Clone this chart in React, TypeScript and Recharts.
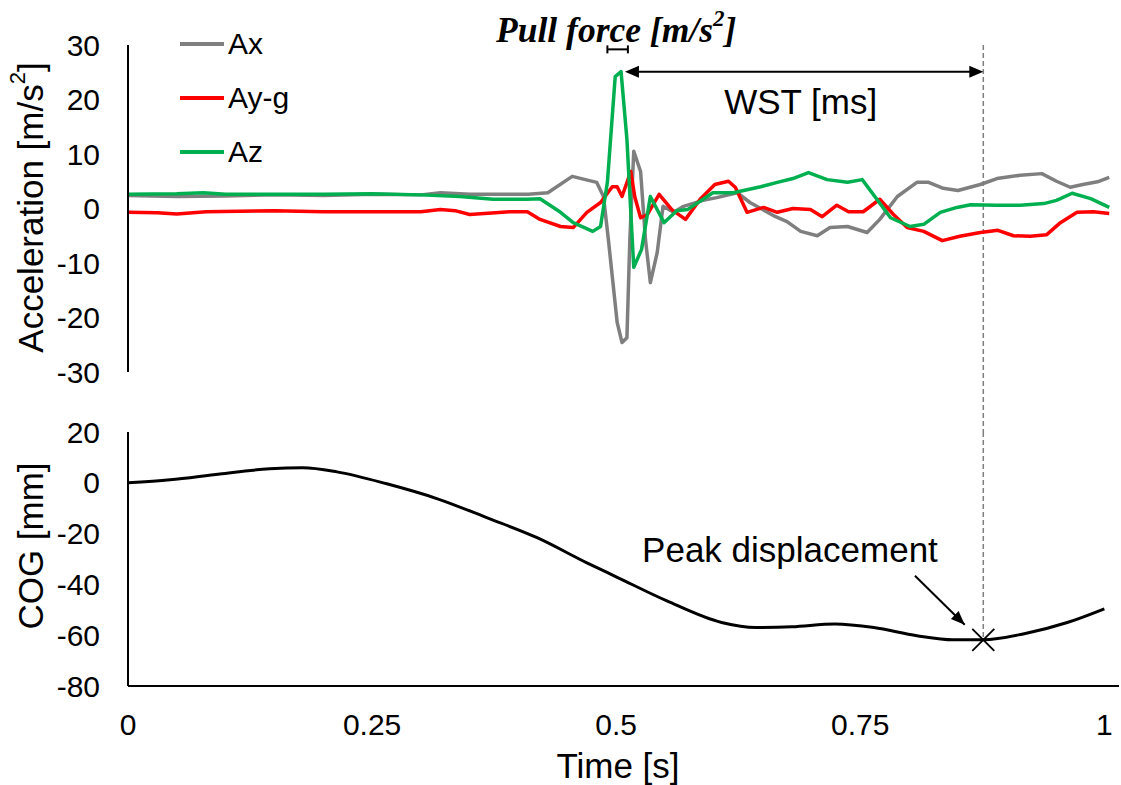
import React from "react";
import {
  LineChart,
  Line,
  XAxis,
  YAxis,
  ReferenceLine,
  ReferenceDot,
} from "recharts";

const FONT = '"Liberation Sans", Arial, sans-serif';
const SERIF = '"Liberation Serif", "Times New Roman", serif';

// time [s] / acceleration [m/s2]
const axTime = [0, 0.05, 0.1, 0.15, 0.2, 0.25, 0.3, 0.32, 0.35, 0.38, 0.41, 0.43, 0.455, 0.48, 0.487, 0.492, 0.501, 0.506, 0.511, 0.514, 0.518, 0.525, 0.53, 0.535, 0.542, 0.548, 0.559, 0.569, 0.589, 0.603, 0.624, 0.637, 0.661, 0.675, 0.689, 0.706, 0.719, 0.737, 0.757, 0.77, 0.788, 0.808, 0.82, 0.835, 0.85, 0.873, 0.89, 0.914, 0.936, 0.951, 0.965, 0.978, 0.993, 1.005];
const axValue = [2.4, 2.2, 2.3, 2.5, 2.4, 2.6, 2.5, 2.9, 2.6, 2.6, 2.6, 2.9, 5.9, 4.8, 2.2, -5.7, -20.9, -24.6, -23.7, -5.7, 10.5, 6.8, -5.7, -13.6, -8.1, 0.4, -0.7, 0.4, 1.5, 2.0, 2.9, 1.1, -1.3, -2.4, -4.2, -5.0, -3.5, -3.3, -4.4, -2.0, 2.2, 4.8, 4.8, 3.7, 3.3, 4.4, 5.5, 6.1, 6.4, 5.0, 3.9, 4.4, 4.9, 5.7];

const ayTime = [0, 0.03, 0.05, 0.08, 0.15, 0.2, 0.25, 0.3, 0.32, 0.335, 0.35, 0.391, 0.409, 0.422, 0.443, 0.456, 0.47, 0.484, 0.496, 0.501, 0.506, 0.515, 0.519, 0.525, 0.532, 0.544, 0.557, 0.571, 0.586, 0.601, 0.615, 0.622, 0.634, 0.651, 0.665, 0.681, 0.699, 0.711, 0.726, 0.738, 0.753, 0.77, 0.784, 0.798, 0.815, 0.834, 0.852, 0.873, 0.891, 0.907, 0.924, 0.941, 0.955, 0.972, 0.989, 1.005];
const ayValue = [-0.7, -0.8, -1.0, -0.6, -0.4, -0.6, -0.6, -0.6, -0.2, -0.4, -1.1, -0.6, -0.6, -2.0, -3.3, -3.5, -0.7, 1.1, 4.0, 4.0, 2.2, 6.8, 2.2, -1.7, -1.1, 2.6, -0.2, -2.0, 1.7, 4.4, 5.0, 3.9, -0.7, 0.2, -0.7, 0.0, -0.2, -1.5, 0.6, -0.6, -0.6, 1.7, -1.1, -3.5, -4.2, -5.9, -5.1, -4.4, -4.0, -5.0, -5.1, -4.8, -2.6, -0.7, -0.6, -0.9];

const azTime = [0, 0.05, 0.077, 0.1, 0.15, 0.2, 0.25, 0.3, 0.34, 0.374, 0.409, 0.422, 0.443, 0.456, 0.476, 0.484, 0.491, 0.499, 0.505, 0.511, 0.518, 0.526, 0.535, 0.549, 0.562, 0.573, 0.599, 0.62, 0.648, 0.665, 0.681, 0.697, 0.716, 0.737, 0.752, 0.767, 0.781, 0.801, 0.815, 0.832, 0.849, 0.863, 0.89, 0.914, 0.938, 0.951, 0.967, 0.986, 1.005];
const azValue = [2.6, 2.7, 2.9, 2.6, 2.6, 2.6, 2.7, 2.5, 2.2, 1.7, 1.7, 1.8, -0.7, -2.6, -4.2, -3.3, 4.8, 24.2, 25.1, 12.7, -10.8, -7.5, 2.2, -2.6, -0.4, -0.2, 2.9, 2.9, 4.0, 4.8, 5.5, 6.6, 5.3, 4.8, 5.3, 1.7, -1.7, -3.3, -2.9, -0.7, 0.2, 0.7, 0.6, 0.6, 0.9, 1.5, 2.8, 1.8, 0.2];

// centre of gravity [mm]
const cogTime = [0, 0.043, 0.094, 0.145, 0.179, 0.214, 0.265, 0.317, 0.368, 0.419, 0.47, 0.5, 0.552, 0.608, 0.643, 0.68, 0.724, 0.764, 0.808, 0.845, 0.876, 0.918, 0.962, 1.0];
const cogValue = [0, 1.2, 3.5, 5.5, 5.9, 4.3, -0.4, -6.3, -13.8, -21.6, -31.5, -37, -46.5, -55, -57, -56.7, -55.6, -57, -60.2, -61.8, -61.8, -59.4, -55, -49.6];

const accelTicks = [-30, -20, -10, 0, 10, 20, 30];
const cogTicks = [-80, -60, -40, -20, 0, 20];
const timeTicks = [0, 0.25, 0.5, 0.75, 1];

// annotation anchors
const peakTime = 0.876;
const peakCog = -61.8;
const pullStart = 0.491;
const pullEnd = 0.512;
const wstStart = 0.509;

const zip = (ts: number[], vs: number[]) => ts.map((t, i) => ({ t, v: vs[i] }));

const series = [
  { name: "Ax", color: "#7f7f7f", data: zip(axTime, axValue) },
  { name: "Ay-g", color: "#ff0000", data: zip(ayTime, ayValue) },
  { name: "Az", color: "#00b050", data: zip(azTime, azValue) },
];
const cogData = zip(cogTime, cogValue);

const X_DOMAIN: [number, number] = [0, 1.015];
const tickStyle = { fill: "#000", fontSize: 30, fontFamily: FONT };

function arrowHead(x: number, y: number, fromX: number, fromY: number, len = 14, half = 6) {
  const a = Math.atan2(y - fromY, x - fromX);
  const bx = x - len * Math.cos(a);
  const by = y - len * Math.sin(a);
  const px = -Math.sin(a) * half;
  const py = Math.cos(a) * half;
  return `${x},${y} ${bx + px},${by + py} ${bx - px},${by - py}`;
}

const doubleArrow = (p: any) => {
  const { x1, y1, x2, y2 } = p;
  return (
    <g>
      <line x1={x1 + 12} y1={y1} x2={x2 - 12} y2={y2} stroke="#000" strokeWidth={2} />
      <polygon points={arrowHead(x1, y1, x2, y2)} fill="#000" />
      <polygon points={arrowHead(x2, y2, x1, y1)} fill="#000" />
    </g>
  );
};

const bracket = (p: any) => {
  const { x1, y1, x2, y2 } = p;
  return (
    <g stroke="#000" strokeWidth={2}>
      <line x1={x1} y1={y1} x2={x2} y2={y2} />
      <line x1={x1} y1={y1 - 4} x2={x1} y2={y1 + 4} />
      <line x1={x2} y1={y2 - 4} x2={x2} y2={y2 + 4} />
    </g>
  );
};

const singleArrow = (p: any) => {
  const { x1, y1, x2, y2 } = p;
  return (
    <g>
      <line x1={x1} y1={y1} x2={x2} y2={y2} stroke="#000" strokeWidth={2} />
      <polygon points={arrowHead(x2, y2, x1, y1, 14, 5.5)} fill="#000" />
    </g>
  );
};

const crossMark = (p: any) => {
  const { cx, cy } = p;
  const s = 11;
  return (
    <g stroke="#000" strokeWidth={1.8}>
      <line x1={cx - s} y1={cy - s} x2={cx + s} y2={cy + s} />
      <line x1={cx - s} y1={cy + s} x2={cx + s} y2={cy - s} />
    </g>
  );
};

const textMark = (content: React.ReactNode, style: any) => (p: any) => (
  <text x={p.cx} y={p.cy} textAnchor="middle" dominantBaseline="central" {...style}>
    {content}
  </text>
);

const yTitle = (content: React.ReactNode, dy: number) => (p: any) => {
  const vb = p.viewBox;
  const cx = vb.x + 2;
  const cy = vb.y + vb.height / 2 + dy;
  return (
    <text
      x={cx}
      y={cy}
      transform={`rotate(-90 ${cx} ${cy})`}
      textAnchor="middle"
      dominantBaseline="central"
      fontSize={35}
      fontFamily={FONT}
      fill="#000"
    >
      {content}
    </text>
  );
};

const xTitle = (p: any) => {
  const vb = p.viewBox;
  return (
    <text
      x={618}
      y={vb.y + 79}
      textAnchor="middle"
      dominantBaseline="central"
      fontSize={35}
      fontFamily={FONT}
      fill="#000"
    >
      Time [s]
    </text>
  );
};

function SeriesLegend() {
  return (
    <div style={{ position: "absolute", left: 180, top: 17, fontFamily: FONT, fontSize: 30, color: "#000" }}>
      {series.map((s) => (
        <div key={s.name} style={{ display: "flex", alignItems: "center", height: 54 }}>
          <span style={{ display: "inline-block", width: 44, height: 4, background: s.color, marginRight: 4 }} />
          <span>{s.name}</span>
        </div>
      ))}
    </div>
  );
}

export default function App() {
  return (
    <div style={{ position: "absolute", left: 0, top: 0, width: 1121, height: 785, background: "#fff" }}>
      {/* COG displacement */}
      <div style={{ position: "absolute", left: 0, top: 0 }}>
        <LineChart width={1121} height={785} margin={{ top: 432, right: 2, bottom: 39, left: 28 }}>
          <XAxis
            type="number"
            dataKey="t"
            domain={X_DOMAIN}
            ticks={timeTicks}
            tickLine={false}
            tickSize={6}
            tickMargin={22}
            tick={tickStyle}
            axisLine={{ stroke: "#000", strokeWidth: 2 }}
            height={60}
            allowDataOverflow
            label={xTitle}
          />
          <YAxis
            type="number"
            domain={[-80, 20]}
            ticks={cogTicks}
            tickLine={false}
            tickSize={6}
            tickMargin={22}
            tick={tickStyle}
            axisLine={{ stroke: "#000", strokeWidth: 2 }}
            width={100}
            label={yTitle("COG [mm]", -13)}
          />
          <ReferenceLine
            segment={[{ x: peakTime, y: 20 }, { x: peakTime, y: peakCog }]}
            stroke="#7f7f7f"
            strokeWidth={1.5}
            strokeDasharray="5 3"
            ifOverflow="visible"
          />
          <Line
            data={cogData}
            dataKey="v"
            type="monotone"
            stroke="#000"
            strokeWidth={3}
            dot={false}
            activeDot={false}
            isAnimationActive={false}
          />
          <ReferenceDot x={peakTime} y={peakCog} r={11} ifOverflow="visible" shape={crossMark} />
          <ReferenceDot
            x={0.678}
            y={-26.4}
            r={1}
            ifOverflow="visible"
            shape={textMark("Peak displacement", { fontSize: 35, fontFamily: FONT, fill: "#000" })}
          />
          <ReferenceLine
            segment={[{ x: 0.806, y: -36.6 }, { x: 0.857, y: -55.9 }]}
            ifOverflow="visible"
            shape={singleArrow}
          />
        </LineChart>
      </div>

      {/* Acceleration */}
      <div style={{ position: "absolute", left: 0, top: 0 }}>
        <LineChart width={1121} height={785} margin={{ top: 45, right: 2, bottom: 413, left: 28 }}>
          <XAxis type="number" dataKey="t" domain={X_DOMAIN} hide allowDataOverflow />
          <YAxis
            type="number"
            domain={[-30, 30]}
            ticks={accelTicks}
            tickLine={false}
            tickSize={6}
            tickMargin={22}
            tick={tickStyle}
            axisLine={{ stroke: "#000", strokeWidth: 2 }}
            width={100}
            label={yTitle(
              <>
                Acceleration [m/s<tspan dy={-13} fontSize={22}>2</tspan>
                <tspan dy={13}>]</tspan>
              </>,
              -1
            )}
          />
          <ReferenceLine
            segment={[{ x: peakTime, y: 30 }, { x: peakTime, y: -41 }]}
            stroke="#7f7f7f"
            strokeWidth={1.5}
            strokeDasharray="5 3"
            ifOverflow="visible"
          />
          {series.map((s) => (
            <Line
              key={s.name}
              data={s.data}
              dataKey="v"
              name={s.name}
              type="linear"
              stroke={s.color}
              strokeWidth={3.5}
              strokeLinejoin="round"
              dot={false}
              activeDot={false}
              isAnimationActive={false}
            />
          ))}
          <ReferenceLine
            segment={[{ x: wstStart, y: 25.1 }, { x: peakTime, y: 25.1 }]}
            ifOverflow="visible"
            shape={doubleArrow}
          />
          <ReferenceLine
            segment={[{ x: pullStart, y: 29.2 }, { x: pullEnd, y: 29.2 }]}
            ifOverflow="visible"
            shape={bracket}
          />
          <ReferenceDot
            x={0.689}
            y={19.6}
            r={1}
            ifOverflow="visible"
            shape={textMark("WST [ms]", { fontSize: 35, fontFamily: FONT, fill: "#000" })}
          />
          <ReferenceDot
            x={0.5}
            y={32.8}
            r={1}
            ifOverflow="visible"
            shape={textMark(
              <>
                Pull force [m/s<tspan dy={-12} fontSize={23}>2</tspan>
                <tspan dy={12}>]</tspan>
              </>,
              { fontSize: 35.5, fontFamily: SERIF, fontWeight: "bold", fontStyle: "italic", fill: "#000" }
            )}
          />
        </LineChart>
      </div>

      <SeriesLegend />
    </div>
  );
}
